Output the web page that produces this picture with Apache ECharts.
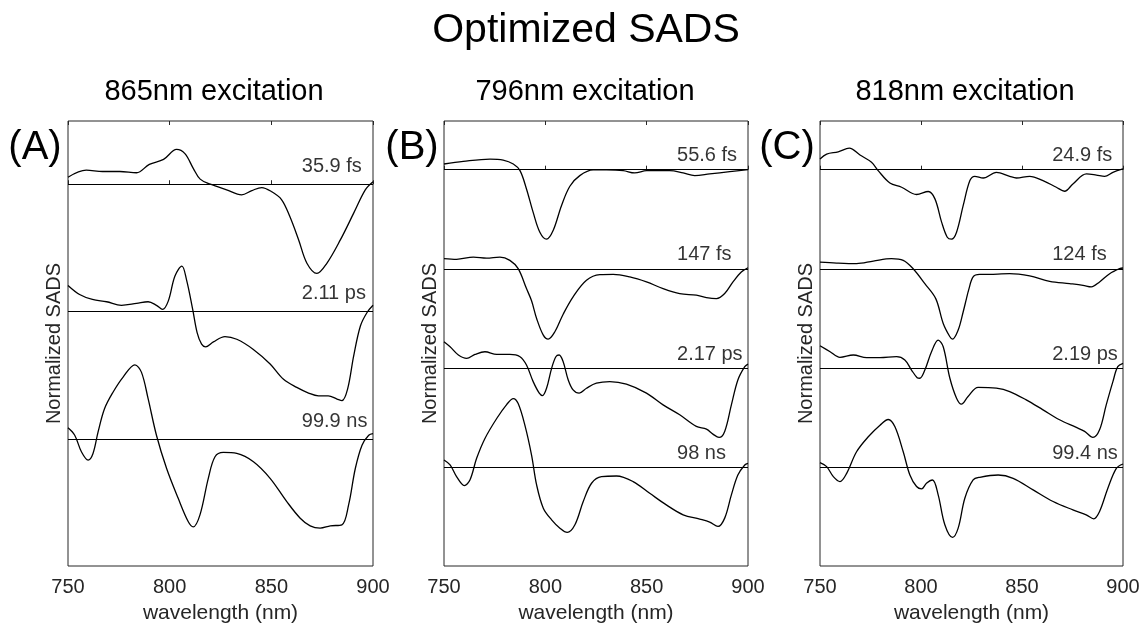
<!DOCTYPE html>
<html>
<head>
<meta charset="utf-8">
<title>Optimized SADS</title>
<script src="https://cdn.jsdelivr.net/npm/echarts@6/dist/echarts.min.js"></script>
<style>
  html, body { margin: 0; padding: 0; background: #fff; }
  #chart { width: 1143px; height: 629px; }
</style>
</head>
<body>
<div id="chart"></div>
<script>
// x axis (nm)
const wlMin = 750;
const wlMax = 900;
const wlStep = 50;

const panelTitles = ['865nm excitation', '796nm excitation', '818nm excitation'];
const panelTags = ['(A)', '(B)', '(C)'];

// 每条曲线的标签（寿命）
const lifetimesA = ['35.9 fs', '2.11 ps', '99.9 ns'];
const lifetimesB = ['55.6 fs', '147 fs', '2.17 ps', '98 ns'];
const lifetimesC = ['24.9 fs', '124 fs', '2.19 ps', '99.4 ns'];

// vertical offsets of the stacked traces
const offsetsA = [0, -1, -2];
const offsetsB = [0, -1, -2, -3];
const offsetsC = [0, -1, -2, -3];
const labelWl = 865;

// SADS, [wavelength, normalized amplitude]
// (A) 865nm
const sadsA1 = [[750,0.055],[759,0.11],[767,0.10],[775.5,0.10],[783.7,0.09],[790,0.156],[797,0.195],[803.4,0.273],[807.5,0.24],[811.6,0.125],[815,0.04],[820,0],[828,-0.044],[835.4,-0.083],[840.4,-0.05],[845.3,-0.026],[850,-0.057],[855,-0.12],[859,-0.25],[863.4,-0.435],[867.5,-0.62],[872.4,-0.70],[877.3,-0.62],[884,-0.435],[890.5,-0.227],[896.2,-0.044],[900,0.02]];
const sadsA2 = [[750,0.206],[755.7,0.135],[762,0.096],[769,0.078],[776.3,0.05],[783.7,0.065],[789.4,0.078],[793.5,0.05],[796.5,0.018],[799.3,0.083],[802.6,0.28],[806,0.357],[808.3,0.25],[811.3,0.02],[813.5,-0.164],[815.7,-0.255],[817.7,-0.276],[821.5,-0.237],[827.2,-0.195],[833,-0.216],[841,-0.294],[849.4,-0.41],[856,-0.53],[862.5,-0.594],[868.3,-0.638],[873.2,-0.66],[878,-0.66],[882.3,-0.685],[884.7,-0.698],[887.5,-0.607],[890.5,-0.346],[893.8,-0.112],[897,-0.008],[900,0.05]];
const sadsA3 = [[750,0.089],[753.3,0.031],[756.6,-0.099],[759.9,-0.164],[762.3,-0.112],[764.8,0.057],[768,0.24],[772.2,0.37],[777.1,0.487],[782.9,0.583],[786.1,0.526],[789.4,0.318],[793.5,0.031],[798.5,-0.23],[804.2,-0.464],[809.1,-0.646],[811.6,-0.688],[814.9,-0.594],[819,-0.307],[822.3,-0.138],[826.4,-0.104],[833,-0.112],[841.2,-0.177],[849.4,-0.307],[857.6,-0.49],[864.2,-0.62],[869.1,-0.68],[874,-0.698],[879,-0.68],[884.7,-0.672],[888,-0.516],[891.3,-0.23],[894.6,-0.047],[897.9,0.031],[900,0.044]];

// (B) 796nm
const sadsB1 = [[750,0.057],[759.5,0.084],[772.7,0.107],[779.2,0.097],[784.2,0.057],[787.5,-0.01],[790.7,-0.194],[794,-0.43],[797.3,-0.63],[800.6,-0.70],[803.9,-0.61],[808,-0.36],[812.1,-0.167],[817,-0.06],[823.6,-0.003],[830.2,-0.003],[838.4,-0.01],[844.1,-0.033],[850,-0.01],[861.4,-0.01],[868,-0.033],[873.7,-0.06],[881.1,-0.043],[891,-0.02],[900,0]];
const sadsB2 = [[750,0.104],[756.2,0.097],[764.5,0.12],[771,0.11],[777.6,0.12],[782.5,0.087],[786.6,0.003],[790.7,-0.197],[793.2,-0.32],[795.7,-0.498],[799,-0.666],[801.4,-0.706],[804.7,-0.632],[808.8,-0.455],[813.7,-0.28],[820.3,-0.114],[826.9,-0.057],[833.5,-0.054],[841.7,-0.08],[849.9,-0.13],[858.1,-0.197],[866.3,-0.247],[874.5,-0.264],[879.5,-0.288],[884.4,-0.298],[888.5,-0.247],[892.6,-0.13],[896.7,-0.03],[900,0.013]];
const sadsB3 = [[750,0.268],[753,0.217],[757.1,0.134],[761.2,0.10],[765.3,0.14],[770.2,0.167],[776,0.14],[782.5,0.14],[787.5,0.117],[790.7,0.033],[794,-0.134],[797,-0.25],[798.6,-0.274],[800.6,-0.2],[803.1,0],[805.2,0.117],[806.8,0.134],[808.8,0.067],[811.3,-0.117],[813.7,-0.217],[816.7,-0.25],[820.3,-0.2],[825.2,-0.15],[831.8,-0.134],[840,-0.16],[849.9,-0.25],[858.1,-0.368],[866.3,-0.468],[874.5,-0.585],[879.5,-0.612],[882.7,-0.662],[885.7,-0.696],[888.5,-0.635],[891.8,-0.368],[895,-0.117],[898.4,0.017],[900,0.043]];
const sadsB4 = [[750,0.077],[753,0.027],[756.2,-0.09],[760,-0.18],[762.8,-0.124],[766.1,0.094],[770.2,0.294],[776,0.495],[780.9,0.635],[784.2,0.696],[786.6,0.645],[789.9,0.428],[793.2,0.127],[795.7,-0.174],[799,-0.408],[803.1,-0.525],[807.2,-0.609],[810.8,-0.652],[814.6,-0.575],[818.7,-0.341],[822.8,-0.157],[827.7,-0.09],[835.1,-0.084],[843.3,-0.14],[851.5,-0.258],[859.7,-0.375],[868,-0.475],[876.2,-0.518],[881.1,-0.548],[885.2,-0.592],[888.5,-0.508],[891.8,-0.274],[895,-0.074],[898.4,0.027],[900,0.043]];

// (C) 818nm
const sadsC1 = [[750,0.107],[753.3,0.157],[759,0.18],[764.5,0.217],[769.8,0.147],[775.5,0.074],[778.8,-0.01],[784.6,-0.134],[790.4,-0.177],[797.8,-0.25],[803.6,-0.22],[806.9,-0.294],[810.2,-0.528],[813,-0.68],[815.1,-0.70],[817.6,-0.63],[820.9,-0.36],[824.2,-0.11],[826.6,-0.067],[830.8,-0.084],[837.3,-0.027],[843.9,-0.067],[847.2,-0.084],[853.8,-0.067],[860.4,-0.11],[867,-0.177],[871.1,-0.217],[875.2,-0.144],[881.9,-0.043],[886.8,-0.054],[890.9,-0.067],[895,-0.027],[900,0.007]];
const sadsC2 = [[750,0.07],[758.2,0.06],[768.1,0.054],[776.4,0.08],[785.4,0.104],[791.2,0.087],[796.1,0.003],[801.9,-0.147],[807.3,-0.298],[811,-0.548],[814.3,-0.682],[815.6,-0.706],[818.4,-0.615],[820.9,-0.43],[822.5,-0.298],[823.6,-0.21],[825.8,-0.08],[829,-0.055],[834,-0.054],[843.9,-0.047],[853.8,-0.07],[863.7,-0.124],[873.6,-0.147],[880.2,-0.164],[884.3,-0.18],[888.4,-0.13],[893.4,-0.047],[898.3,0.003],[900,0.01]];
const sadsC3 = [[750,0.227],[755,0.167],[759.9,0.11],[766.5,0.134],[773.1,0.107],[779.7,0.107],[787.9,0.117],[792,0.084],[795.3,-0.017],[798.1,-0.094],[799.4,-0.1],[801.9,-0.017],[805.2,0.167],[808.5,0.284],[811,0.217],[814.3,-0.1],[817.6,-0.301],[820,-0.361],[823.3,-0.284],[828.3,-0.191],[837.3,-0.2],[843.9,-0.234],[852.1,-0.318],[860.4,-0.418],[868.6,-0.518],[876.9,-0.595],[881,-0.635],[885.1,-0.696],[888.4,-0.619],[891.7,-0.368],[895,-0.134],[897.4,0.017],[900,0.05]];
const sadsC4 = [[750,0.05],[753.3,0.01],[756.6,-0.09],[759.9,-0.14],[763.2,-0.057],[768.1,0.16],[773.9,0.311],[779.7,0.428],[783.8,0.485],[787.1,0.411],[791.2,0.16],[794.5,-0.074],[797.8,-0.19],[800.3,-0.214],[802.7,-0.157],[805.7,-0.124],[808.5,-0.274],[811.8,-0.575],[815.6,-0.702],[818.4,-0.609],[821.7,-0.308],[825.8,-0.124],[829.1,-0.097],[838.2,-0.074],[845.6,-0.107],[855.5,-0.224],[865.4,-0.341],[875.2,-0.425],[881.8,-0.475],[885.5,-0.515],[888.4,-0.441],[892.5,-0.207],[896.7,-0.007],[900,0.037]];

const panels = [
  { traces: [sadsA1, sadsA2, sadsA3], offsets: offsetsA, labels: lifetimesA, yMin: -2.995, yMax: 0.496, left: 68, width: 305, labelDy: -8, tagX: 35, titleX: 214 },
  { traces: [sadsB1, sadsB2, sadsB3, sadsB4], offsets: offsetsB, labels: lifetimesB, yMin: -3.99, yMax: 0.49, left: 444, width: 304, labelDy: -4, tagX: 412, titleX: 585 },
  { traces: [sadsC1, sadsC2, sadsC3, sadsC4], offsets: offsetsC, labels: lifetimesC, yMin: -3.99, yMax: 0.49, left: 820, width: 303, labelDy: -4, tagX: 787, titleX: 965 }
];

const axisColor = '#262626';
const grid = [], xAxis = [], yAxis = [], series = [];
const title = [{
  text: 'Optimized SADS', left: 586, top: 10, textAlign: 'center', padding: 0,
  textStyle: { fontSize: 41, fontWeight: 'normal', color: '#000' }
}];

panels.forEach((p, i) => {
  grid.push({ left: p.left, width: p.width, top: 121, height: 447, show: true, borderColor: axisColor, borderWidth: 1, backgroundColor: '#fff' });

  title.push({ text: panelTitles[i], left: p.titleX, top: 77, textAlign: 'center', padding: 0,
    textStyle: { fontSize: 29, fontWeight: 'normal', color: '#000' } });
  title.push({ text: panelTags[i], left: p.tagX, top: 128, textAlign: 'center', padding: 0,
    textStyle: { fontSize: 40, fontWeight: 'normal', color: '#000' } });

  // bottom axis
  xAxis.push({
    type: 'value', gridIndex: i, min: wlMin, max: wlMax, interval: wlStep,
    axisLine: { show: false },
    axisTick: { show: true, inside: true, length: 4, lineStyle: { color: axisColor } },
    axisLabel: { fontSize: 20, color: axisColor, margin: 11, showMinLabel: true, showMaxLabel: true },
    splitLine: { show: false },
    name: 'wavelength (nm)', nameLocation: 'middle', nameGap: 37,
    nameTextStyle: { fontSize: 21, color: axisColor }
  });
  // top axis, only ticks
  xAxis.push({
    type: 'value', gridIndex: i, position: 'top', min: wlMin, max: wlMax, interval: wlStep,
    axisLine: { show: false },
    axisTick: { show: true, inside: true, length: 4, lineStyle: { color: axisColor } },
    axisLabel: { show: false },
    splitLine: { show: false }
  });
  yAxis.push({
    type: 'value', gridIndex: i, min: p.yMin, max: p.yMax,
    axisLine: { show: false }, axisTick: { show: false }, axisLabel: { show: false },
    splitLine: { show: false },
    name: 'Normalized SADS', nameLocation: 'middle', nameGap: 4,
    nameTextStyle: { fontSize: 20, color: axisColor }
  });

  p.traces.forEach((tr, k) => {
    const off = p.offsets[k];
    series.push({
      type: 'line', xAxisIndex: 2 * i, yAxisIndex: i,
      data: tr.map(d => [d[0], d[1] + off]),
      showSymbol: false, smooth: 0.35,
      lineStyle: { color: '#000', width: 1.3 },
      markLine: {
        silent: true, symbol: ['none', 'none'], label: { show: false },
        lineStyle: { color: '#000', width: 1, type: 'solid' },
        data: [{ yAxis: off }]
      },
      z: 3
    });
  });

  series.push({
    type: 'scatter', xAxisIndex: 2 * i, yAxisIndex: i,
    symbolSize: 0.1, itemStyle: { color: '#000' },
    data: p.labels.map((lb, k) => ({ name: lb, value: [labelWl, p.offsets[k]] })),
    label: {
      show: true, formatter: '{b}', position: [0, p.labelDy],
      align: 'left', verticalAlign: 'bottom', fontSize: 20, color: '#000'
    },
    z: 4
  });
});

const chart = echarts.init(document.getElementById('chart'));
chart.setOption({
  animation: false,
  backgroundColor: '#fff',
  textStyle: { fontFamily: 'Liberation Sans' },
  title: title,
  grid: grid,
  xAxis: xAxis,
  yAxis: yAxis,
  series: series
});
</script>
</body>
</html>
